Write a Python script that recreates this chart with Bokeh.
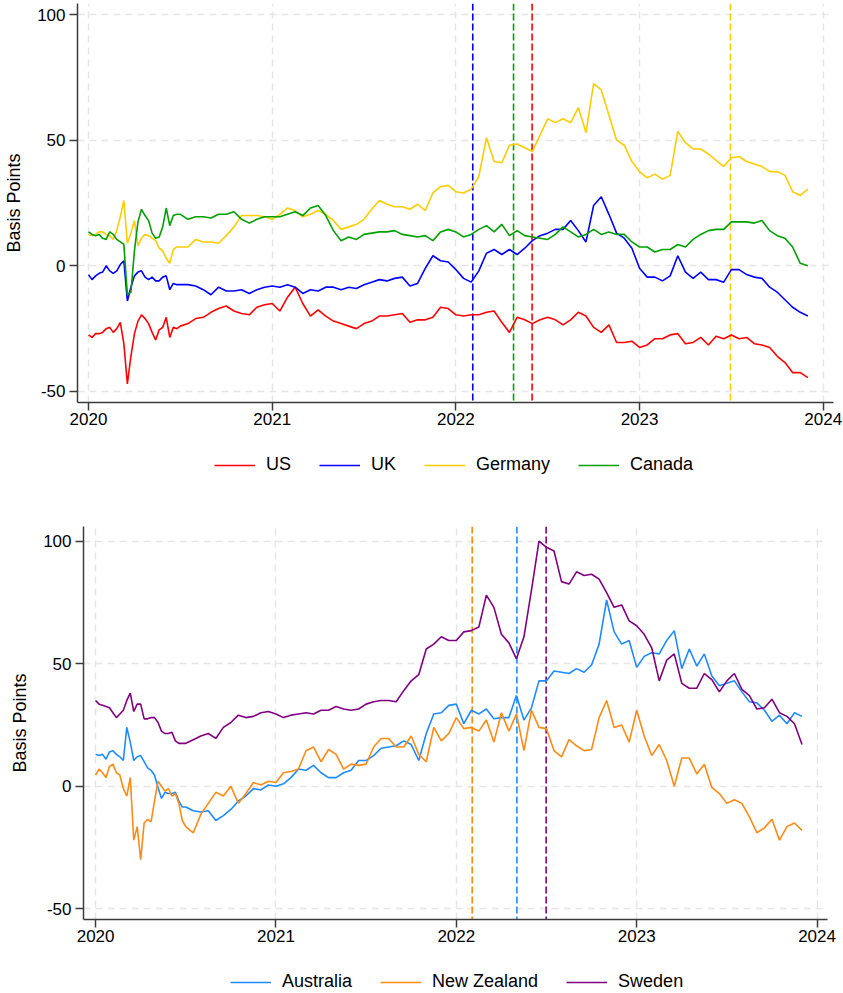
from bokeh.plotting import figure
from bokeh.models import Range1d, FixedTicker, Span, Legend, LegendItem
from bokeh.layouts import column, row
from bokeh.embed import file_html
from bokeh.resources import INLINE

FONT = "Liberation Sans"

# Sampling dates (decimal years): weekly in the first half of 2020, half-monthly afterwards
DATES = [2020 + j / 52 for j in range(26)] + [2020 + k / 24 for k in range(12, 95)]

X_TICKS = [2020, 2021, 2022, 2023, 2024]
Y_TICKS = [-50, 0, 50, 100]

# ---------------- top panel (basis points) ----------------
US = [-27.5, -28.5, -27, -27, -26.5, -25, -24.5, -26.5, -25, -22.5, -31, -47, -36, -27, -22,
      -19.5, -21, -23, -26.5, -29.5, -25.5, -24.5, -20.5, -28.5, -24.5, -25,
      -24, -23, -21, -20.5, -18.5, -17, -16, -18, -19, -19.5, -16.5, -15.5,
      -15, -18, -12.5, -8.5, -15, -20, -17.5, -20, -22, -23, -24, -25,
      -23, -22, -20, -20, -19.5, -19, -22.5, -21.5, -21.5, -20.5, -16.5, -17,
      -19.5, -20, -19.5, -19.5, -18.5, -18, -22.5, -26.5, -20.5, -21.5, -23, -21.5,
      -20.5, -21.5, -23.5, -21.5, -18.5, -20, -24.5, -26.5, -23.5, -30.5, -30.5, -30,
      -32.5, -31.5, -29, -29, -27.5, -27, -31, -30.5, -28.5, -31.5, -28, -29,
      -27.5, -29, -28.5, -31, -31.5, -32.5, -36, -38.5, -42.5, -42.5, -44.5]
UK = [-3.5, -5.5, -4, -3, -2.5, 0, -2, -3, -2, 0.5, 2, -14, -8.5, -4, -2.5,
      -2, -4.5, -5.5, -4.5, -6, -6, -4.5, -4, -9.5, -7, -7.5,
      -7.5, -7.5, -8, -9.5, -11.5, -8.5, -10, -10, -9.5, -11, -9.5, -8.5,
      -8, -8.5, -7.5, -8.5, -11, -9.5, -10, -8.5, -8.5, -9.5, -8.5, -9,
      -7.5, -6.5, -5.5, -6, -5, -4.5, -8, -7, -1, 4, 2, 1.5,
      -1.5, -5, -6.5, -2, 5, 6.5, 4.5, 6.5, 4.5, 7, 10, 12,
      13, 14.5, 14.5, 18, 14, 9.5, 24, 27.5, 20.5, 13, 11, 7,
      -1, -4.5, -4.5, -6, -4, 4, -2.5, -5, -2.5, -5.5, -5.5, -6.5,
      -1.5, -1.5, -3.5, -4.5, -5, -8.5, -10.5, -13.5, -16.5, -18.5, -20]
GERMANY = [12.5, 12, 12.5, 13.5, 13.5, 12.5, 12, 10.5, 14, 19.5, 26, 9, 13, 18, 8,
           11, 12.5, 12, 11, 10, 7, 6, 3, 1, 6.5, 7.5,
           7.5, 7.5, 10.5, 9.5, 9.5, 9, 12, 15.5, 20, 20, 20, 19.5,
           18.5, 20.5, 23, 22, 19.5, 20.5, 22, 20.5, 18, 14.5, 15.5, 16.5,
           18.5, 22.5, 26, 24.5, 23.5, 23.5, 22.5, 24.5, 22, 29, 31.5, 32,
           29.5, 29, 30.5, 35.5, 51, 41.5, 41, 48, 48.5, 47, 45.5, 52,
           58.5, 57, 58.5, 57, 63, 53, 72.5, 70, 60, 50, 48, 41.5,
           37.5, 35, 36.5, 34.5, 36, 53.5, 49, 46.5, 46.5, 44.5, 42, 39.5,
           43, 43.5, 41.5, 40.5, 39.5, 37.5, 37.5, 36, 29.5, 28, 30.5]
CANADA = [13.5, 12.5, 12, 12.5, 11, 10.5, 13.5, 12.5, 10.5, 9.5, 8.5, -11.5, -10.5, 6, 17.5,
          22.5, 20, 18, 13, 11, 11.5, 15.5, 23, 16, 20, 20.5,
          20.5, 18.5, 19.5, 19.5, 19, 20.5, 20.5, 21.5, 18.5, 17, 18.5, 19.5,
          19.5, 19.5, 20.5, 21.5, 20, 23, 24, 20, 14, 10, 11.5, 10.5,
          12.5, 13, 13.5, 13.5, 14, 12.5, 12, 11.5, 12, 10, 13.5, 14.5,
          13.5, 11.5, 12.5, 14.5, 16, 13.5, 16.5, 12, 14, 12, 11.5, 11,
          10.5, 12.5, 15.5, 13.5, 11.5, 12.5, 14.5, 12.5, 13.5, 12.5, 12.5, 9.5,
          7.5, 7.5, 5.5, 6.5, 6.5, 8.5, 7.5, 10.5, 12.5, 14, 14.5, 14.5,
          17.5, 17.5, 17.5, 17, 18, 14, 12, 11, 7.5, 1, 0]

# ---------------- bottom panel (basis points) ----------------
AUSTRALIA = [13, 12.5, 13, 11, 14, 14.5, 13, 12, 10.5, 24, 18, 10.5, 12, 12.5, 10,
             7.5, 6.5, 4.5, -0.5, -5, -2.5, -3, -3, -2.5, -6, -8.5,
             -8.5, -10, -10.5, -10, -14, -12, -9.5, -6, -4, -1, -1.5, 0.5,
             0, 1, 3.5, 7, 6.5, 8.5, 5.5, 3.5, 3.5, 5.5, 6.5, 10.5,
             10.5, 12.5, 15.5, 16, 16.5, 18.5, 17, 10.5, 21.5, 29.5, 30, 33,
             33.5, 25.5, 31, 29.5, 31.5, 27.5, 28, 28, 37, 27, 32, 43,
             43, 47, 46.5, 46, 48, 46.5, 49.5, 58, 76, 63, 58, 59.5,
             48.5, 53, 54.5, 54, 59.5, 63.5, 48, 56, 49, 54, 45, 41,
             42, 43, 38.5, 34.5, 34, 31, 26.5, 29, 25.5, 30, 28.5]
NEW_ZEALAND = [4.5, 7, 5.5, 3.5, 8, 9, 5.5, 4.5, -1, -4, 3.5, -22, -16.5, -30, -15,
               -13.5, -14.5, -6, 2, 0, -2, -1, -4, -3, -7, -14,
               -16.5, -19, -11.5, -7, -2.5, -4, 0, -7, -3, 1.5, 0.5, 2,
               1.5, 5.5, 6, 7, 14.5, 16, 10, 15, 13, 7, 9, 8.5,
               9, 16, 19.5, 19.5, 16, 16, 20.5, 13, 10, 24, 18.5, 21.5,
               28, 23.5, 24, 22.5, 27, 18, 30, 22.5, 29.5, 14.5, 31, 24,
               23.5, 14.5, 12, 19, 16.5, 14.5, 15, 28, 35, 24, 25, 18,
               31, 20.5, 12.5, 17, 10.5, 0, 11.5, 11.5, 5, 9, -0.5, -3,
               -7, -5.5, -7, -12.5, -19, -17, -13.5, -22, -16.5, -15, -18]
SWEDEN = [35, 33.5, 33, 32.5, 32, 30, 28, 29.5, 31, 35, 38, 30.5, 33.5, 33.5, 27.5,
          27.5, 28, 28, 26, 22.5, 21.5, 21.5, 22, 18.5, 17.5, 17.5,
          17.5, 19, 20.5, 21.5, 19.5, 24, 26, 29, 28, 28.5, 30, 30.5,
          29.5, 28, 29, 29.5, 30, 29.5, 31, 31, 32.5, 31.5, 31, 31.5,
          33.5, 34.5, 35, 35, 34.5, 39, 43, 45.5, 56, 58, 61, 59.5,
          59.5, 63, 63.5, 65, 78, 73, 62, 58.5, 52, 61, 80, 100,
          97.5, 96, 83.5, 82.5, 87.5, 86, 86.5, 84.5, 79, 73, 74, 67.5,
          65.5, 62, 56.5, 43, 51.5, 54, 42, 40, 40, 46, 43.5, 38.5,
          43, 46, 39.5, 37, 31.5, 32, 35.5, 30, 28.5, 25.5, 17]

for s in (US, UK, GERMANY, CANADA, AUSTRALIA, NEW_ZEALAND, SWEDEN):
    assert len(s) == len(DATES), len(s)

TOP_NAMES = ["US", "UK", "Germany", "Canada"]
TOP_VALUES = [US, UK, GERMANY, CANADA]
TOP_COLORS = ["#FF0000", "#0000FF", "#FFCC00", "#00A000"]
TOP_EVENT_DATES = [2022.415, 2022.092, 2023.495, 2022.314]   # US, UK, Germany, Canada

BOT_NAMES = ["Australia", "New Zealand", "Sweden"]
BOT_VALUES = [AUSTRALIA, NEW_ZEALAND, SWEDEN]
BOT_COLORS = ["#1E8CFF", "#FF8A14", "#800080"]
BOT_EVENT_DATES = [2022.336, 2022.088, 2022.498]

W = 843


def make_panel(names, values, colors, events, xr, yr, h, bl, br, bt, bb):
    p = figure(width=W, height=h,
               x_range=Range1d(*xr), y_range=Range1d(*yr),
               output_backend="svg", toolbar_location=None,
               min_border_left=bl, min_border_right=br,
               min_border_top=bt, min_border_bottom=bb)
    p.outline_line_color = None
    p.background_fill_color = "white"
    p.border_fill_color = "white"

    p.xaxis.ticker = FixedTicker(ticks=X_TICKS)
    p.yaxis.ticker = FixedTicker(ticks=Y_TICKS)
    for ax in (p.xaxis[0], p.yaxis[0]):
        ax.axis_line_color = "#3C3C3C"
        ax.axis_line_width = 1.5
        ax.major_tick_line_color = "#3C3C3C"
        ax.major_tick_line_width = 1.5
        ax.major_tick_out = 8
        ax.major_tick_in = 0
        ax.minor_tick_out = 0
        ax.minor_tick_in = 0
        ax.major_label_text_font = FONT
        ax.major_label_text_font_size = "17px"
        ax.major_label_text_color = "black"
    p.yaxis.major_label_overrides = {-50: "-50"}
    p.xaxis.major_label_standoff = 2
    p.yaxis.major_label_standoff = 4
    p.yaxis.axis_label = "Basis Points"
    p.yaxis.axis_label_text_font = FONT
    p.yaxis.axis_label_text_font_size = "18px"
    p.yaxis.axis_label_text_font_style = "normal"
    p.yaxis.axis_label_text_color = "black"
    p.yaxis.axis_label_standoff = 10

    for g in (p.xgrid[0], p.ygrid[0]):
        g.grid_line_color = "#E6E6E6"
        g.grid_line_dash = "7 5"
        g.grid_line_width = 1.5

    for ev, c in zip(events, colors):
        p.add_layout(Span(location=ev, dimension="height", line_color=c,
                          line_dash="7 3", line_width=1.6, level="underlay"))

    for name, vals, c in zip(names, values, colors):
        p.line(DATES, vals, line_color=c, line_width=1.6)
    return p


def make_legend(names, colors, height, loc):
    lg = figure(width=W, height=height, x_range=Range1d(0, 1), y_range=Range1d(0, 1),
                x_axis_type=None, y_axis_type=None,
                output_backend="svg", toolbar_location=None, min_border=0)
    lg.grid.visible = False
    lg.outline_line_color = None
    items = []
    for name, c in zip(names, colors):
        # legend key only: a single empty (NaN) point draws nothing in the plot area
        r = lg.line([float("nan")], [float("nan")], line_color=c, line_width=1.6)
        items.append(LegendItem(label=name, renderers=[r]))
    legend = Legend(items=items, orientation="horizontal", location=loc,
                    glyph_width=41, glyph_height=20, label_standoff=11, spacing=28,
                    padding=0, margin=0, border_line_alpha=0, background_fill_alpha=0,
                    label_text_font=FONT, label_text_font_size="18px",
                    label_text_color="black")
    lg.add_layout(legend)
    return lg


p1 = make_panel(TOP_NAMES, TOP_VALUES, TOP_COLORS, TOP_EVENT_DATES,
                (2019.940, 2024.056), (-54.4, 104.4),
                450, 77, 10, 3, 48)
l1 = make_legend(TOP_NAMES, TOP_COLORS, 43, (214, 18))
p2 = make_panel(BOT_NAMES, BOT_VALUES, BOT_COLORS, BOT_EVENT_DATES,
                (2019.933, 2024.058), (-54.4, 106.0),
                466, 83, 16, 33, 40)
l2 = make_legend(BOT_NAMES, BOT_COLORS, 34, (230, 1))

layout = column(row(p1), row(l1), row(p2), row(l2), spacing=0)
open("out.html", "w").write(file_html(layout, INLINE))
